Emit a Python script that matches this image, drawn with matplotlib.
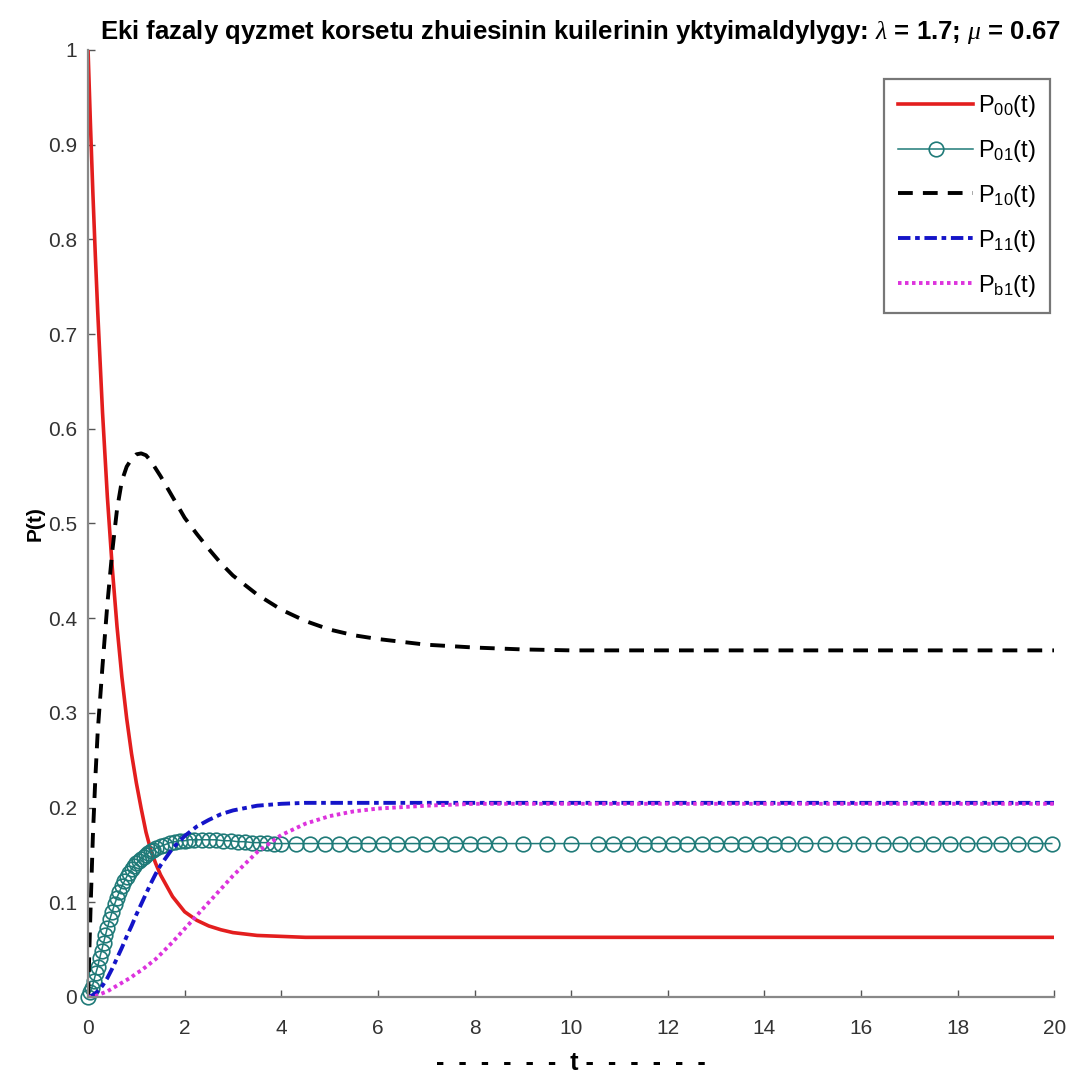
import numpy as np
from matplotlib import pyplot as plt

# time grid shared by the line curves
t = [0, 0.05, 0.1, 0.15, 0.2, 0.3, 0.4, 0.5, 0.6, 0.7, 0.8, 0.9, 1.0, 1.1, 1.2,
     1.3, 1.4, 1.5, 1.75, 2.0, 2.25, 2.5, 2.75, 3.0, 3.5, 4.0, 4.5, 5.0, 5.5,
     6.0, 7.0, 8.0, 9.0, 10, 12, 14, 16, 18, 20]

p00 = [1.0, 0.921, 0.849, 0.784, 0.724, 0.617, 0.528, 0.454, 0.391, 0.338,
       0.294, 0.257, 0.226, 0.199, 0.174, 0.155, 0.141, 0.129, 0.106, 0.090,
       0.081, 0.075, 0.071, 0.068, 0.065, 0.064, 0.063, 0.063, 0.063, 0.063,
       0.063, 0.063, 0.063, 0.063, 0.063, 0.063, 0.063, 0.063, 0.063]

p10 = [0.0, 0.09, 0.17, 0.23, 0.28, 0.35, 0.415, 0.47, 0.515, 0.545, 0.56,
       0.568, 0.573, 0.574, 0.572, 0.566, 0.558, 0.55, 0.528, 0.506, 0.489,
       0.473, 0.458, 0.445, 0.425, 0.409, 0.397, 0.388, 0.382, 0.378, 0.372,
       0.369, 0.367, 0.366, 0.366, 0.366, 0.366, 0.366, 0.366]

p11 = [0.0, 0.001, 0.002, 0.004, 0.006, 0.012, 0.02, 0.03, 0.041, 0.052,
       0.064, 0.075, 0.087, 0.098, 0.109, 0.12, 0.13, 0.139, 0.157, 0.17,
       0.18, 0.187, 0.193, 0.197, 0.202, 0.204, 0.205, 0.205, 0.205, 0.205,
       0.205, 0.205, 0.205, 0.205, 0.205, 0.205, 0.205, 0.205, 0.205]

pb1 = [0.0, 0.0, 0.001, 0.001, 0.002, 0.004, 0.006, 0.009, 0.012, 0.015,
       0.018, 0.021, 0.025, 0.028, 0.032, 0.036, 0.04, 0.045, 0.058, 0.072,
       0.086, 0.1, 0.114, 0.128, 0.153, 0.171, 0.183, 0.191, 0.196, 0.199,
       0.202, 0.204, 0.204, 0.204, 0.204, 0.204, 0.204, 0.204, 0.204]

# P01 has its own (solver) time steps, drawn with markers
t01 = [0, 0.04, 0.08, 0.12, 0.16, 0.2, 0.24, 0.28, 0.32, 0.36, 0.4, 0.45, 0.5,
       0.55, 0.6, 0.65, 0.7, 0.75, 0.8, 0.85, 0.9, 0.95, 1.0, 1.05, 1.1, 1.15,
       1.2, 1.25, 1.3, 1.35, 1.4, 1.5, 1.6, 1.7, 1.8, 1.9, 2.0, 2.1, 2.2, 2.35,
       2.5, 2.65, 2.8, 2.95, 3.1, 3.25, 3.4, 3.55, 3.7, 3.85, 4.0, 4.3, 4.6,
       4.9, 5.2, 5.5, 5.8, 6.1, 6.4, 6.7, 7.0, 7.3, 7.6, 7.9, 8.2, 8.5, 9.0,
       9.5, 10.0, 10.55, 10.87, 11.18, 11.5, 11.8, 12.1, 12.4, 12.7, 13.0,
       13.3, 13.6, 13.9, 14.2, 14.5, 14.85, 15.25, 15.65, 16.05, 16.45, 16.8,
       17.15, 17.5, 17.85, 18.2, 18.55, 18.9, 19.25, 19.6, 19.95]
p01 = [0.0, 0.005, 0.01, 0.017, 0.025, 0.032, 0.041, 0.049, 0.057, 0.065,
       0.073, 0.082, 0.09, 0.098, 0.105, 0.111, 0.117, 0.122, 0.127, 0.131,
       0.135, 0.138, 0.141, 0.144, 0.146, 0.148, 0.15, 0.152, 0.154, 0.155,
       0.157, 0.159, 0.161, 0.163, 0.164, 0.165, 0.165, 0.166, 0.166, 0.166,
       0.166, 0.166, 0.165, 0.165, 0.164, 0.164, 0.163, 0.163, 0.163, 0.162,
       0.162] + [0.162] * 47

title = r'Eki fazaly qyzmet korsetu zhuiesinin kuilerinin yktyimaldylygy: $\lambda$ = 1.7; $\mu$ = 0.67'
yticks = [0, 0.1, 0.2, 0.3, 0.4, 0.5, 0.6, 0.7, 0.8, 0.9, 1]
ytick_labels = ['0', '0.1', '0.2', '0.3', '0.4', '0.5', '0.6', '0.7', '0.8', '0.9', '1']
xticks = [0, 2, 4, 6, 8, 10, 12, 14, 16, 18, 20]
labels = [r'P$_{\mathrm{00}}$(t)', r'P$_{\mathrm{01}}$(t)', r'P$_{\mathrm{10}}$(t)',
          r'P$_{\mathrm{11}}$(t)', r'P$_{\mathrm{b1}}$(t)']


def main():
    plt.rcParams['font.family'] = ['Liberation Sans', 'DejaVu Sans']
    plt.rcParams['mathtext.fontset'] = 'custom'
    plt.rcParams['mathtext.rm'] = 'Liberation Sans'
    plt.rcParams['mathtext.it'] = 'Liberation Serif:italic'

    fig = plt.figure(figsize=(10.79, 10.79), dpi=100)
    ax = fig.add_axes([0.0816, 0.076, 0.8954, 0.8777])

    ax.plot(t, p00, color='#e31e1e', lw=2.6, label=labels[0])
    ax.plot(t01, p01, color='#1f7a78', lw=1.1, marker='o', ms=10.5,
            mfc='none', mew=1.2, label=labels[1], clip_on=False)
    ax.plot(t, p10, color='black', lw=2.8, ls=(0, (3.8, 2.6)), label=labels[2])
    ax.plot(t, p11, color='#1414c8', lw=2.8, ls=(0, (3.2, 1.2, 1.2, 1.2)),
            label=labels[3])
    ax.plot(t, pb1, color='#dd33dd', lw=2.8, ls=(0, (0.9, 0.9)), label=labels[4])

    ax.set_xlim(0, 20)
    ax.set_ylim(0, 1)
    ax.set_xticks(xticks)
    ax.set_yticks(yticks)
    ax.set_yticklabels(ytick_labels)
    ax.tick_params(direction='in', length=5, width=1, colors='#555555',
                   labelsize=15, labelcolor='#333333')
    ax.tick_params(axis='x', pad=16)
    ax.tick_params(axis='y', pad=8)
    for side in ['top', 'right']:
        ax.spines[side].set_visible(False)
    for side in ['left', 'bottom']:
        ax.spines[side].set_color('#888888')
        ax.spines[side].set_linewidth(1.6)

    ax.set_title(title, fontsize=18.5, fontweight='bold', pad=8, x=0.51)
    ax.set_ylabel('P(t)', fontsize=15, fontweight='bold', labelpad=2)
    ax.set_xlabel('-  -  -  -  -  -  t -  -  -  -  -  -', fontsize=18,
                  fontweight='bold', labelpad=9)

    leg = ax.legend(loc='upper right', bbox_to_anchor=(1.008, 0.982), fontsize=17,
                    fancybox=False, framealpha=1, edgecolor='#777777',
                    handlelength=3.2, handletextpad=0.2, labelspacing=0.8,
                    borderpad=0.6)
    leg.get_frame().set_linewidth(1.6)

    plt.savefig('out.png', dpi=100)


if __name__ == '__main__':
    main()
